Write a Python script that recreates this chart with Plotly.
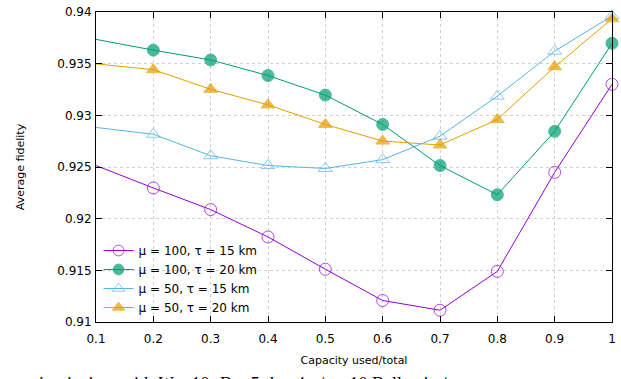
import plotly.graph_objects as go

x = [0.1, 0.2, 0.3, 0.4, 0.5, 0.6, 0.7, 0.8, 0.9, 1.0]
mu100_tau15 = [0.92514, 0.92297, 0.92088, 0.91823, 0.91511, 0.91208, 0.91114, 0.9149, 0.92448, 0.93300]
mu100_tau20 = [0.93735, 0.93631, 0.93536, 0.93385, 0.93196, 0.92912, 0.92514, 0.92231, 0.92845, 0.93697]
mu50_tau15 = [0.92883, 0.92817, 0.92609, 0.92514, 0.92486, 0.92571, 0.92798, 0.93186, 0.93621, 0.93962]
mu50_tau20 = [0.93498, 0.93442, 0.93252, 0.93101, 0.92912, 0.92751, 0.92713, 0.92959, 0.93470, 0.93934]

names = ["μ = 100, τ = 15 km", "μ = 100, τ = 20 km", "μ = 50, τ = 15 km", "μ = 50, τ = 20 km"]
colors = ["#9400d3", "#009e73", "#56b4e9", "#e69f00"]
symbols = ["circle-open", "circle", "triangle-up-open", "triangle-up"]
series = [mu100_tau15, mu100_tau20, mu50_tau15, mu50_tau20]

xticks = [0.1, 0.2, 0.3, 0.4, 0.5, 0.6, 0.7, 0.8, 0.9, 1.0]
xticklabels = ["0.1", "0.2", "0.3", "0.4", "0.5", "0.6", "0.7", "0.8", "0.9", "1"]
yticks = [0.91, 0.915, 0.92, 0.925, 0.93, 0.935, 0.94]
yticklabels = ["0.91", "0.915", "0.92", "0.925", "0.93", "0.935", "0.94"]

fig = go.Figure()
for name, col, sym, ys in zip(names, colors, symbols, series):
    sizes = [0] + [12] * (len(x) - 1)
    fig.add_trace(go.Scatter(
        x=x, y=ys, name=name, mode="lines+markers",
        line=dict(color=col, width=1),
        marker=dict(symbol=sym, size=sizes, color=col, line=dict(color=col, width=1)),
        cliponaxis=False,
    ))

font = "DejaVu Sans, sans-serif"
axis_common = dict(
    showline=True, linecolor="black", linewidth=1, mirror="ticks",
    ticks="inside", ticklen=6, tickcolor="black",
    showgrid=True, gridcolor="#d0d0d0", griddash="dot", gridwidth=1,
    zeroline=False, tickfont=dict(family=font, size=12, color="black"),
    ticklabeloverflow="allow",
)
fig.update_xaxes(range=[0.1, 1.0], tickvals=xticks, ticktext=xticklabels,
                 ticklabelstandoff=6,
                 title=dict(text="Capacity used/total", font=dict(family=font, size=11, color="black"), standoff=10),
                 **axis_common)
fig.update_yaxes(range=[0.91, 0.94], tickvals=yticks, ticktext=yticklabels,
                 ticklabelstandoff=1,
                 title=dict(text="Average fidelity", font=dict(family=font, size=11, color="black"), standoff=30),
                 **axis_common)

fig.add_annotation(
    xref="paper", yref="paper", x=-0.13, y=-0.16, xanchor="left", yanchor="top",
    text="circuit sizes with <i>W</i> = 10, <i>D</i> = 5, <i>k</i> = 4, <i>t</i>/<i>τ</i> = 10 Bell pairs/ms",
    showarrow=False, font=dict(family="Liberation Serif, serif", size=18, color="black"),
)

fig.update_layout(
    width=621, height=379,
    margin=dict(l=96, r=7, t=5, b=57),
    paper_bgcolor="white", plot_bgcolor="white",
    showlegend=True,
    legend=dict(x=0.005, y=0.0, xanchor="left", yanchor="bottom",
                bgcolor="rgba(0,0,0,0)", font=dict(family=font, size=12, color="black"),
                tracegroupgap=0, itemwidth=30),
)

fig.write_html("out.html")
